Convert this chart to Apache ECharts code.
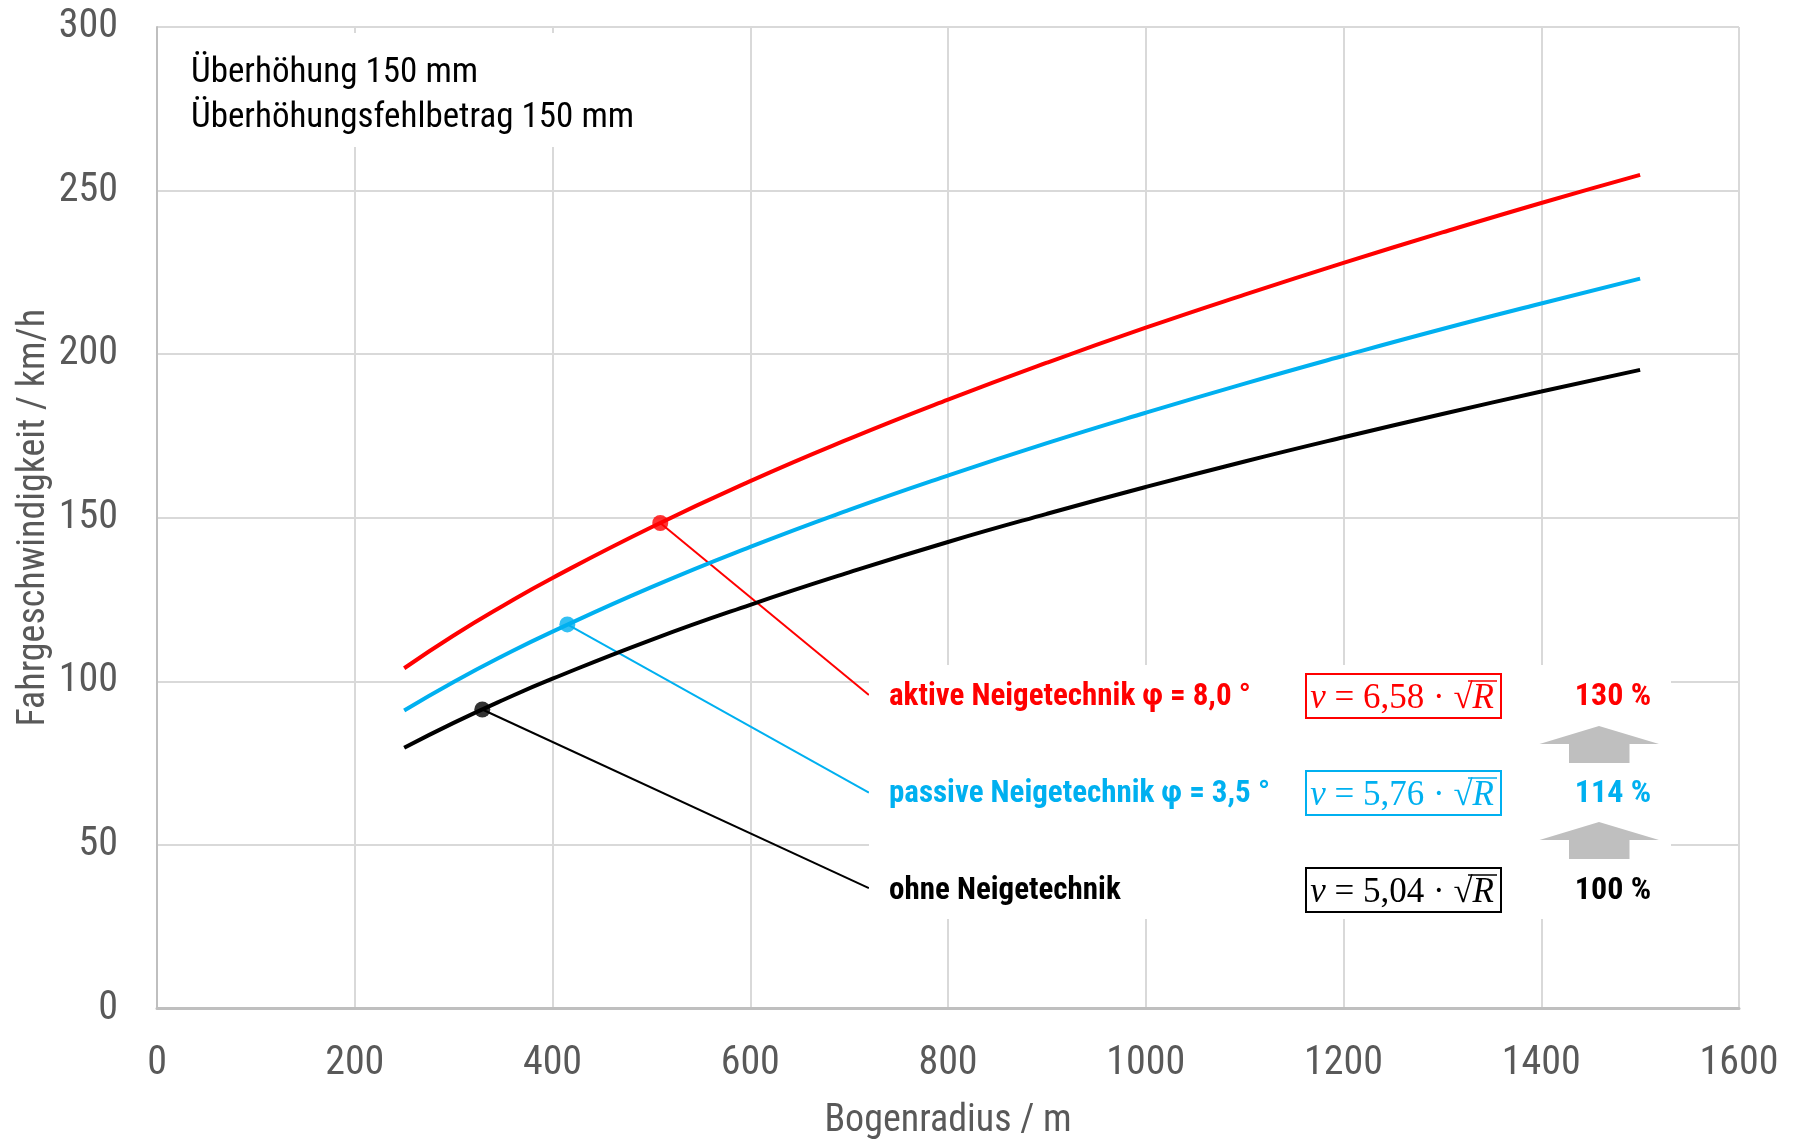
<!DOCTYPE html>
<html>
<head>
<meta charset="utf-8">
<script src="https://cdn.jsdelivr.net/npm/echarts@6/dist/echarts.min.js"></script>
<style>
html,body{margin:0;padding:0;background:#fff;}
#chart{width:1797px;height:1141px;}
</style>
</head>
<body>
<div id="chart"></div>
<script>
// Bogenradius / m
var radius = [250, 300, 350, 400, 500, 600, 700, 800, 900, 1000, 1100, 1200, 1300, 1400, 1500];
// Fahrgeschwindigkeit / km/h
var aktiv   = [104.0, 114.0, 123.1, 131.6, 147.1, 161.2, 174.1, 186.1, 197.4, 208.1, 218.2, 227.9, 237.2, 246.2, 254.8];
var passiv  = [91.1, 99.8, 107.8, 115.2, 128.8, 141.1, 152.4, 162.9, 172.8, 182.1, 191.0, 199.5, 207.7, 215.5, 223.1];
var ohne    = [79.7, 87.3, 94.3, 100.8, 112.7, 123.4, 133.3, 142.6, 151.2, 159.4, 167.2, 174.6, 181.7, 188.6, 195.2];
// marked points [R, v] and leader line ends
var dotAktiv  = [509, 148.4];
var dotPassiv = [415, 117.4];
var dotOhne   = [329, 91.4];
var endAktiv  = [720, 95.8];
var endPassiv = [720, 66.0];
var endOhne   = [720, 36.8];
var xTicks = [0, 200, 400, 600, 800, 1000, 1200, 1400, 1600];
var yTicks = [0, 50, 100, 150, 200, 250, 300];
var labels = ['aktive Neigetechnik \u03c6 = 8,0 \u00b0', 'passive Neigetechnik \u03c6 = 3,5 \u00b0', 'ohne Neigetechnik'];
var factors = ['6,58', '5,76', '5,04'];
var percents = ['130 %', '114 %', '100 %'];
var infoLines = ['\u00dcberh\u00f6hung 150 mm', '\u00dcberh\u00f6hungsfehlbetrag 150 mm'];

var RED = '#ff0000', BLUE = '#00b0f0', BLACK = '#000000';
var NARROW = '"Roboto Condensed", "Liberation Sans", sans-serif';
var SERIF = '"Liberation Serif", "DejaVu Serif", serif';

function pairs(xs, ys) { return xs.map(function (x, i) { return [x, ys[i]]; }); }

function curve(name, data, color) {
  return { name: name, type: 'line', data: pairs(radius, data), smooth: true, showSymbol: false,
    lineStyle: { color: color, width: 4 }, z: 3, animation: false };
}
function leader(dot, end, color) {
  return { type: 'line', data: [dot, end], showSymbol: false, lineStyle: { color: color, width: 2 }, z: 2, animation: false };
}
function dot(p, color) {
  return { type: 'scatter', data: [p], symbolSize: 16, itemStyle: { color: color }, z: 4, animation: false };
}

var colors = [RED, BLUE, BLACK];
var rowY = [697, 794, 891];
var graphics = [];
// white backgrounds behind text blocks
graphics.push({ type: 'rect', shape: { x: 175, y: 33, width: 470, height: 114 }, style: { fill: '#fff' }, z: 50 });
graphics.push({ type: 'rect', shape: { x: 869, y: 665, width: 802, height: 254 }, style: { fill: '#fff' }, z: 50 });
infoLines.forEach(function (t, i) {
  graphics.push({ type: 'text', x: 191, y: [73, 118][i], z: 60,
    style: { text: t, font: '35px ' + NARROW, fill: '#000', verticalAlign: 'middle', align: 'left' } });
});
labels.forEach(function (t, i) {
  graphics.push({ type: 'text', x: 889, y: rowY[i], z: 60,
    style: { text: t, font: 'bold 31px ' + NARROW, fill: colors[i], verticalAlign: 'middle', align: 'left' } });
  var top = rowY[i] - 23;
  graphics.push({ type: 'rect', shape: { x: 1306, y: top, width: 195, height: 44 }, z: 60,
    style: { fill: 'none', stroke: colors[i], lineWidth: 2 } });
  graphics.push({ type: 'text', x: 1494, y: rowY[i] + 2, z: 61,
    style: { text: '{i|v} = ' + factors[i] + ' \u00b7 \u221a{i|R}', align: 'right', verticalAlign: 'middle',
      font: '35px ' + SERIF, fill: colors[i],
      rich: { i: { fontStyle: 'italic', fontFamily: SERIF, fontSize: 35, fill: colors[i] } } } });
  graphics.push({ type: 'line', shape: { x1: 1468, y1: top + 7, x2: 1497, y2: top + 7 }, z: 61,
    style: { stroke: colors[i], lineWidth: 1.5 } });
  graphics.push({ type: 'text', x: 1613, y: rowY[i], z: 60,
    style: { text: percents[i], font: 'bold 32px ' + NARROW, fill: colors[i], verticalAlign: 'middle', align: 'center' } });
});
// grey arrows
[[726, 744, 763], [822, 840, 859]].forEach(function (a) {
  graphics.push({ type: 'polygon', z: 60, shape: { points: [[1599, a[0]], [1659, a[1]], [1629.5, a[1]], [1629.5, a[2]], [1569, a[2]], [1569, a[1]], [1539.5, a[1]]] },
    style: { fill: '#bfbfbf' } });
});

var chart = echarts.init(document.getElementById('chart'), null, { renderer: 'canvas' });
chart.setOption({
  backgroundColor: '#fff',
  animation: false,
  grid: { left: 157, right: 58, top: 27, bottom: 132.5, containLabel: false, outerBoundsMode: 'none' },
  xAxis: {
    type: 'value', min: xTicks[0], max: xTicks[xTicks.length - 1], interval: 200,
    name: 'Bogenradius / m', nameLocation: 'middle', nameGap: 94, nameMoveOverlap: false,
    nameTextStyle: { fontFamily: NARROW, fontSize: 38, color: '#595959' },
    axisLine: { show: true, lineStyle: { color: '#bfbfbf', width: 3 } },
    axisTick: { show: false },
    axisLabel: { fontFamily: NARROW, fontSize: 40, color: '#595959', margin: 35, formatter: function (v) { return String(v); } },
    splitLine: { show: true, lineStyle: { color: '#d9d9d9', width: 2 } }
  },
  yAxis: {
    type: 'value', min: yTicks[0], max: yTicks[yTicks.length - 1], interval: 50,
    name: 'Fahrgeschwindigkeit / km/h', nameLocation: 'middle', nameGap: 104, nameRotate: 90, nameMoveOverlap: false,
    nameTextStyle: { fontFamily: NARROW, fontSize: 38, color: '#595959' },
    axisLine: { show: true, lineStyle: { color: '#bfbfbf', width: 2 } },
    axisTick: { show: false },
    axisLabel: { fontFamily: NARROW, fontSize: 40, color: '#595959', margin: 39, formatter: function (v) { return String(v); } },
    splitLine: { show: true, lineStyle: { color: '#d9d9d9', width: 2 } }
  },
  series: [
    curve('aktive Neigetechnik', aktiv, RED),
    curve('passive Neigetechnik', passiv, BLUE),
    curve('ohne Neigetechnik', ohne, BLACK),
    leader(dotAktiv, endAktiv, RED),
    leader(dotPassiv, endPassiv, BLUE),
    leader(dotOhne, endOhne, BLACK),
    dot(dotAktiv, RED),
    dot(dotPassiv, BLUE),
    dot(dotOhne, BLACK)
  ],
  graphic: graphics
});
</script>
</body>
</html>
